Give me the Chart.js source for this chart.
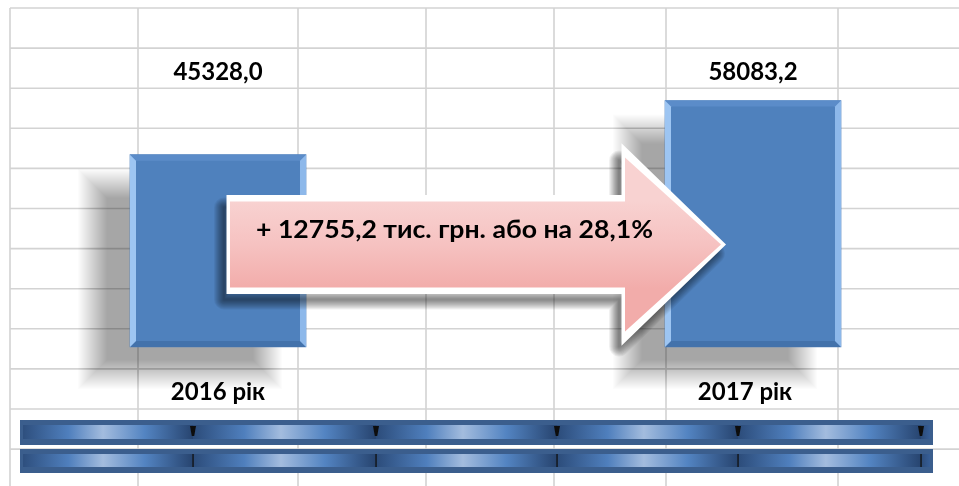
<!DOCTYPE html>
<html>
<head>
<meta charset="utf-8">
<script src="https://cdn.jsdelivr.net/npm/chart.js@4.4.1/dist/chart.umd.min.js"></script>
<style>
  html, body { margin: 0; padding: 0; background: #fff; }
  canvas { display: block; }
</style>
</head>
<body>
<canvas id="growthChart" width="959" height="486"></canvas>
<script>
// data
const years = ['2016 рік', '2017 рік'];
const revenue = [45328.0, 58083.2];
const valueLabels = ['45328,0', '58083,2'];
const changeText = '+ 12755,2 тис. грн. або на 28,1%';

const FONT = 'Lato, "Open Sans", sans-serif';

// spreadsheet cells behind the chart
const gridCols = [10, 138, 298, 426, 554, 666, 838];
const gridTop = 8;
const rowStep = 40.1;

// decorative strip at the bottom
const stripEdges = [20, 193, 376, 557, 738, 921, 933];

const arrowPath = (ctx, tail, neck, tip, cy, bodyHalf, headHalf) => {
    ctx.beginPath();
    ctx.moveTo(tail, cy - bodyHalf);
    ctx.lineTo(neck, cy - bodyHalf);
    ctx.lineTo(neck, cy - headHalf);
    ctx.lineTo(tip, cy);
    ctx.lineTo(neck, cy + headHalf);
    ctx.lineTo(neck, cy + bodyHalf);
    ctx.lineTo(tail, cy + bodyHalf);
    ctx.closePath();
};

const poly = (ctx, pts, fill) => {
    ctx.beginPath();
    ctx.moveTo(pts[0][0], pts[0][1]);
    for (let i = 1; i < pts.length; i++) ctx.lineTo(pts[i][0], pts[i][1]);
    ctx.closePath();
    ctx.fillStyle = fill;
    ctx.fill();
};

// soft shadow built from stacked translucent rects
const softRect = (ctx, l, t, w, h, spread, alpha) => {
    ctx.fillStyle = 'rgba(0,0,0,' + alpha + ')';
    for (let k = -spread; k < spread; k++) {
        ctx.fillRect(l - k, t - k, w + 2 * k, h + 2 * k);
    }
};

const drawStrip = (ctx, top, h, tickMarks) => {
    const left = stripEdges[0], right = stripEdges[stripEdges.length - 1];
    const W = right - left;
    ctx.fillStyle = '#3b5e8d';
    ctx.fillRect(left, top, W, h);
    const g = ctx.createLinearGradient(left, 0, right, 0);
    const st = (x, c) => g.addColorStop(Math.min(1, Math.max(0, (x - left) / W)), c);
    for (let i = 0; i < stripEdges.length - 1; i++) {
        const s = stripEdges[i], e = stripEdges[i + 1], L = e - s;
        if (L < 40) {
            st(s + 0.01, '#2c4c7a');
            st(e, '#3a64a0');
            continue;
        }
        st(s + 0.01, '#2c4c7a');
        st(s + L * 0.28, '#4f7fbd');
        st(s + L * 0.48, '#a3bcde');
        st(s + L * 0.72, '#5384c2');
        st(e - 0.01, '#27446f');
    }
    ctx.fillStyle = g;
    ctx.fillRect(left + 3, top + 5, W - 6, h - 11);
    stripEdges.slice(1, -1).forEach(x => {
        if (tickMarks) {
            poly(ctx, [[x - 3, top + 6], [x + 3, top + 6], [x + 1.2, top + 16], [x - 1.2, top + 16]], '#0d0d0d');
        } else {
            ctx.fillStyle = '#111';
            ctx.fillRect(x - 0.6, top + 5, 1.3, h - 11);
        }
    });
};

const decor = {
    id: 'decor',
    beforeDraw(chart) {
        const ctx = chart.ctx, w = chart.width, h = chart.height;
        ctx.save();
        ctx.fillStyle = '#fff';
        ctx.fillRect(0, 0, w, h);
        ctx.strokeStyle = '#d3d3d3';
        ctx.lineWidth = 1.6;
        ctx.beginPath();
        for (let y = gridTop; y < h; y += rowStep) {
            ctx.moveTo(gridCols[0], y);
            ctx.lineTo(w, y);
        }
        gridCols.forEach(x => {
            ctx.moveTo(x, gridTop);
            ctx.lineTo(x, h);
        });
        ctx.stroke();
        ctx.restore();
    },
    beforeDatasetsDraw(chart) {
        const ctx = chart.ctx;
        ctx.save();
        chart.getDatasetMeta(0).data.forEach(bar => {
            const p = bar.getProps(['x', 'y', 'base', 'width'], true);
            softRect(ctx, p.x - p.width / 2 - 38, p.y + 28, p.width, p.base - p.y, 15, 0.0105);
        });
        ctx.restore();
    },
    afterDatasetsDraw(chart) {
        const ctx = chart.ctx;
        const a = chart.chartArea;
        const xs = chart.scales.x;

        // bevel on the bars
        ctx.save();
        chart.getDatasetMeta(0).data.forEach(bar => {
            const p = bar.getProps(['x', 'y', 'base', 'width'], true);
            const l = p.x - p.width / 2, r = p.x + p.width / 2, t = p.y, b = p.base, e = 6;
            poly(ctx, [[l, t], [r, t], [r - e, t + e], [l + e, t + e]], '#5b8cc9');
            poly(ctx, [[l, b], [r, b], [r - e, b - e], [l + e, b - e]], '#4372ab');
            poly(ctx, [[l, t], [l + e, t + e], [l + e, b - e], [l, b]], '#9dc5f2');
            poly(ctx, [[r, t], [r - e, t + e], [r - e, b - e], [r, b]], '#8db8ea');
        });
        ctx.restore();

        // growth arrow
        const x0 = xs.getPixelForValue(0), x1 = xs.getPixelForValue(1);
        const cy = a.bottom - (a.bottom - a.top) * 0.345;
        const tail = x0 + 12, tip = x1 - 32, neck = tip - 96;

        ctx.save();
        ctx.translate(-6, 9);
        ctx.lineJoin = 'round';
        for (let k = 20; k >= 2; k -= 2) {
            arrowPath(ctx, tail, neck, tip, cy, 46, 93);
            ctx.lineWidth = k;
            ctx.strokeStyle = 'rgba(0,0,0,0.055)';
            ctx.stroke();
        }
        ctx.restore();

        ctx.save();
        ctx.lineJoin = 'miter';
        arrowPath(ctx, tail, neck, tip, cy, 46, 93);
        ctx.fillStyle = '#fff';
        ctx.fill();
        ctx.lineWidth = 7;
        ctx.strokeStyle = '#fff';
        ctx.stroke();
        const pg = ctx.createLinearGradient(0, cy - 44, 0, cy + 44);
        pg.addColorStop(0, '#f8d2d1');
        pg.addColorStop(0.5, '#f6c2c1');
        pg.addColorStop(1, '#f2acaa');
        arrowPath(ctx, tail, neck, tip, cy, 43, 87);
        ctx.fillStyle = pg;
        ctx.fill();
        ctx.restore();

        ctx.save();
        ctx.fillStyle = '#000';
        ctx.font = 'bold 24px ' + FONT;
        ctx.textAlign = 'left';
        ctx.textBaseline = 'middle';
        const tw = ctx.measureText(changeText).width;
        ctx.translate(tail + 26, cy - 14);
        ctx.scale(397 / tw, 1);
        ctx.fillText(changeText, 0, 0);
        ctx.restore();

        // value labels and year labels
        ctx.save();
        ctx.fillStyle = '#000';
        ctx.font = 'bold 24px ' + FONT;
        ctx.textAlign = 'center';
        ctx.textBaseline = 'middle';
        chart.getDatasetMeta(0).data.forEach((bar, i) => {
            ctx.fillText(valueLabels[i], bar.x, a.top + 22);
            ctx.fillText(xs.getLabelForValue(i), bar.x - 8 * i, a.bottom + 45);
        });
        ctx.restore();
    },
    afterDraw(chart) {
        const ctx = chart.ctx;
        ctx.save();
        drawStrip(ctx, 420, 25, true);
        drawStrip(ctx, 449, 24, false);
        ctx.restore();
    }
};

new Chart(document.getElementById('growthChart'), {
    type: 'bar',
    data: {
        labels: years,
        datasets: [{
            label: 'тис. грн.',
            data: revenue,
            backgroundColor: '#4f81bd',
            borderWidth: 0,
            barThickness: 176,
            clip: false
        }]
    },
    options: {
        responsive: false,
        animation: false,
        devicePixelRatio: 1,
        layout: {
            padding: { top: 50, bottom: 139, left: 218, right: 206 }
        },
        plugins: {
            legend: { display: false },
            tooltip: { enabled: false }
        },
        scales: {
            x: {
                display: false,
                offset: false
            },
            y: {
                display: false,
                min: 0,
                max: 70000
            }
        }
    },
    plugins: [decor]
});
</script>
</body>
</html>
